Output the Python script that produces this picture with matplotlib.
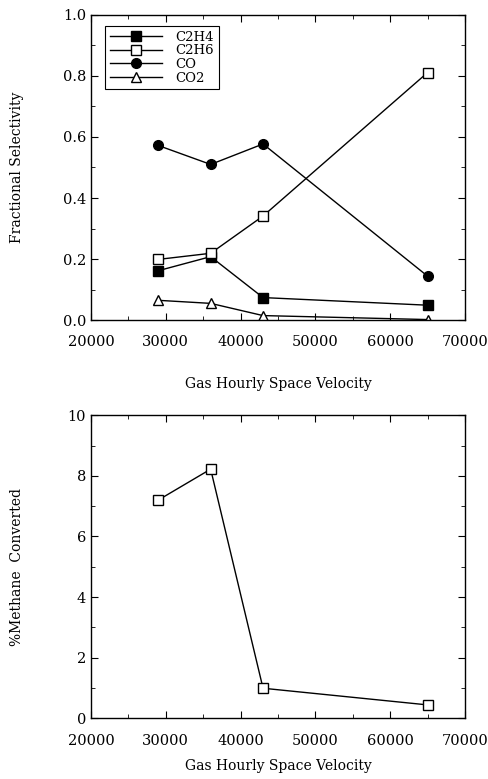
import matplotlib
matplotlib.use("Agg")
import matplotlib.pyplot as plt
from matplotlib.ticker import MultipleLocator

plt.rcParams['font.family'] = ['DejaVu Serif']

# gas hourly space velocity
ghsv = [29000, 36000, 43000, 65000]

# fractional selectivity
c2h4 = [0.162, 0.208, 0.074, 0.049]
c2h6 = [0.199, 0.219, 0.341, 0.811]
co = [0.572, 0.510, 0.577, 0.144]
co2 = [0.065, 0.055, 0.015, 0.002]

# methane conversion (%)
ch4_conv = [7.2, 8.22, 0.99, 0.44]

fig = plt.figure(figsize=(4.89, 7.79), dpi=100)
ax1 = fig.add_axes([0.186, 0.589, 0.765, 0.392])
ax2 = fig.add_axes([0.186, 0.078, 0.765, 0.389])

lw = 1.0
ax1.plot(ghsv, c2h4, '-s', color='black', mfc='black', ms=6.5, lw=lw, label='C2H4')
ax1.plot(ghsv, c2h6, '-s', color='black', mfc='white', ms=7, lw=lw, label='C2H6')
ax1.plot(ghsv, co, '-o', color='black', mfc='black', ms=7, lw=lw, label='CO')
ax1.plot(ghsv, co2, '-^', color='black', mfc='white', ms=7.5, lw=lw, label='CO2')

ax1.set_ylim(0, 1.0)
ax1.set_yticks([0.0, 0.2, 0.4, 0.6, 0.8, 1.0])
ax1.set_ylabel('Fractional Selectivity', fontsize=10)

leg = ax1.legend(loc='upper left', fontsize=9.5, handlelength=4.0,
                 borderpad=0.35, labelspacing=0.05, handletextpad=1.0,
                 fancybox=False, framealpha=1, edgecolor='black',
                 bbox_to_anchor=(0.02, 0.985))
leg.get_frame().set_linewidth(0.8)

ax2.plot(ghsv, ch4_conv, '-s', color='black', mfc='white', ms=7, lw=lw)
ax2.set_ylim(0, 10)
ax2.set_yticks([0, 2, 4, 6, 8, 10])
ax2.set_ylabel('%Methane  Converted', fontsize=10)

for ax in (ax1, ax2):
    ax.set_xlim(20000, 70000)
    ax.set_xticks([20000, 30000, 40000, 50000, 60000, 70000])
    ax.xaxis.set_minor_locator(MultipleLocator(5000))
    ax.tick_params(which='both', direction='in', top=True, right=True, labelsize=10.5)
    ax.tick_params(which='major', length=5)
    ax.tick_params(which='minor', length=3)
    ax.tick_params(axis='x', which='major', pad=11)
    ax.yaxis.set_label_coords(-0.18, 0.5)
    for s in ax.spines.values():
        s.set_linewidth(1.0)

ax1.set_xlabel('Gas Hourly Space Velocity', fontsize=10, labelpad=20)
ax2.set_xlabel('Gas Hourly Space Velocity', fontsize=10, labelpad=8)

ax1.yaxis.set_minor_locator(MultipleLocator(0.1))
ax2.yaxis.set_minor_locator(MultipleLocator(1))

fig.savefig('out.png', dpi=100)
